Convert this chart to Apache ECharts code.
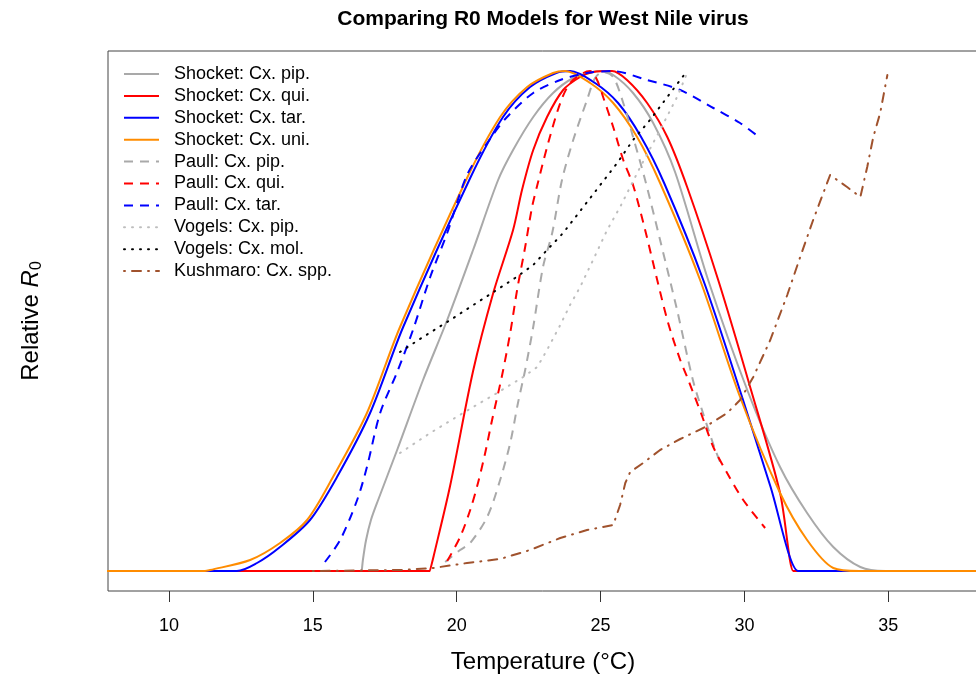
<!DOCTYPE html>
<html><head><meta charset="utf-8">
<script src="https://cdn.jsdelivr.net/npm/echarts@6/dist/echarts.min.js"></script>
<style>html,body{margin:0;padding:0;background:#fff}#c{width:976px;height:677px}</style>
</head><body><div id="c"></div>
<script>
// ---- Data (temperature in °C, relative R0) ----
var xTicks = [10, 15, 20, 25, 30, 35];

var shocketPipT = [5, 16.70, 16.71, 16.74, 16.85, 17.02, 17.27, 17.93, 18.83, 19.67, 20.57, 21.44, 21.96, 22.66, 23.35, 24.05, 24.74, 24.99, 25.44, 26.13, 26.83, 27.59, 28.74, 30.10, 31.24, 32.18, 33.09, 34.03, 34.9, 40];
var shocketPipR = [0, 0, 0, 0.022, 0.062, 0.102, 0.142, 0.242, 0.382, 0.502, 0.642, 0.782, 0.842, 0.908, 0.956, 0.986, 0.998, 1.0, 0.992, 0.956, 0.896, 0.798, 0.582, 0.362, 0.208, 0.116, 0.048, 0.008, 0, 0];

var shocketQuiT = [5, 19.07, 19.08, 19.2, 19.77, 20.57, 21.27, 21.96, 22.27, 22.66, 23.14, 23.70, 24.29, 24.74, 25.40, 25.92, 26.62, 27.32, 28.01, 29.09, 30.20, 31.24, 31.70, 31.71, 40];
var shocketQuiR = [0, 0, 0, 0.03, 0.17, 0.40, 0.556, 0.682, 0.762, 0.842, 0.908, 0.962, 0.988, 0.998, 1.0, 0.982, 0.936, 0.868, 0.768, 0.582, 0.368, 0.156, 0, 0, 0];

var shocketTarT = [5, 12.36, 13.06, 13.86, 14.90, 15.84, 16.99, 18.14, 20.47, 21.61, 22.55, 23.46, 23.94, 24.81, 25.61, 26.41, 27.21, 28.57, 29.92, 30.90, 31.87, 31.88, 40];
var shocketTarR = [0, 0, 0.016, 0.048, 0.102, 0.188, 0.316, 0.488, 0.786, 0.908, 0.968, 0.996, 1.0, 0.976, 0.936, 0.868, 0.776, 0.582, 0.348, 0.17, 0, 0, 0];

var shocketUniT = [5, 11.25, 11.43, 12.82, 13.86, 14.80, 15.70, 16.88, 18.03, 20.36, 21.51, 22.45, 23.35, 23.77, 24.64, 25.44, 26.27, 27.07, 28.46, 29.85, 31.24, 32.18, 33.09, 34.0, 40];
var shocketUniR = [0, 0, 0.002, 0.022, 0.056, 0.102, 0.188, 0.316, 0.488, 0.786, 0.908, 0.968, 0.996, 1.0, 0.976, 0.936, 0.868, 0.776, 0.582, 0.348, 0.156, 0.062, 0.006, 0, 0];

var paullPipT = [19.6, 20.12, 20.47, 21.06, 21.51, 21.86, 22.13, 22.38, 22.66, 23.00, 23.32, 23.66, 24.05, 24.53, 24.81, 25.09, 25.44, 25.79, 26.13, 26.55, 27.07, 27.66, 28.21, 28.56, 28.99, 29.23];
var paullPipR = [0.018, 0.042, 0.056, 0.108, 0.182, 0.256, 0.336, 0.402, 0.488, 0.608, 0.676, 0.782, 0.862, 0.942, 0.986, 0.998, 0.988, 0.936, 0.868, 0.782, 0.662, 0.522, 0.382, 0.316, 0.242, 0.208];

var paullQuiT = [19.67, 20.12, 20.47, 20.74, 20.99, 21.23, 21.58, 21.86, 22.10, 22.38, 22.62, 22.83, 23.18, 23.60, 23.94, 24.40, 24.64, 24.88, 25.09, 25.44, 25.79, 26.13, 26.55, 26.97, 27.35, 27.77, 28.01, 28.49, 28.92, 29.40, 29.96, 30.72];
var paullQuiR = [0.02, 0.068, 0.122, 0.176, 0.236, 0.302, 0.392, 0.476, 0.562, 0.648, 0.728, 0.778, 0.856, 0.936, 0.976, 0.996, 1.0, 0.982, 0.948, 0.888, 0.822, 0.772, 0.682, 0.582, 0.496, 0.422, 0.388, 0.316, 0.248, 0.196, 0.142, 0.086];

var paullTarT = [15.42, 15.95, 16.54, 16.88, 17.34, 17.93, 18.48, 19.08, 19.67, 20.36, 21.06, 21.75, 22.66, 23.60, 24.53, 25.40, 26.62, 27.77, 28.92, 29.85, 30.55];
var paullTarR = [0.018, 0.062, 0.142, 0.208, 0.316, 0.398, 0.482, 0.588, 0.676, 0.792, 0.856, 0.908, 0.956, 0.982, 0.996, 1.0, 0.982, 0.962, 0.926, 0.896, 0.866];

var vogelsPipT = [18.03, 19.08, 20.22, 21.40, 22.31, 22.80, 23.14, 23.60, 23.94, 24.29, 24.74, 25.23, 25.68, 26.38, 27.07, 27.66, 28.01];
var vogelsPipR = [0.236, 0.276, 0.316, 0.356, 0.388, 0.408, 0.442, 0.492, 0.532, 0.568, 0.622, 0.682, 0.728, 0.808, 0.882, 0.948, 0.996];

var vogelsMolT = [18.03, 18.83, 19.67, 20.47, 21.23, 22.03, 22.66, 23.14, 23.70, 24.40, 24.99, 25.58, 26.13, 26.72, 27.32, 27.98];
var vogelsMolR = [0.438, 0.468, 0.498, 0.528, 0.556, 0.586, 0.612, 0.642, 0.676, 0.728, 0.772, 0.816, 0.862, 0.902, 0.948, 0.998];

var kushmaroT = [15.0, 18.03, 19.18, 20.36, 21.51, 22.55, 23.60, 24.53, 25.44, 25.68, 25.86, 26.03, 26.48, 27.07, 27.77, 28.57, 29.40, 29.85, 30.31, 30.90, 31.49, 31.94, 32.39, 32.98, 33.57, 34.03, 34.27, 34.48, 34.72, 34.97];
var kushmaroR = [0, 0.002, 0.006, 0.016, 0.024, 0.042, 0.066, 0.082, 0.092, 0.132, 0.176, 0.198, 0.216, 0.242, 0.264, 0.286, 0.316, 0.342, 0.388, 0.462, 0.552, 0.628, 0.702, 0.792, 0.768, 0.748, 0.808, 0.868, 0.916, 0.992];

// ---- Build ----
function zip(t, r) { return t.map(function (v, i) { return [v, r[i]]; }); }
var FONT = '"Liberation Sans", Arial, Helvetica, sans-serif';

function mk(name, t, r, color, type, cap, smooth) {
  return {
    name: name, type: 'line', data: zip(t, r), symbol: 'none', animation: false,
    smooth: smooth || false,
    lineStyle: { color: color, width: 2, type: type, cap: cap || 'butt', join: 'round' },
    itemStyle: { color: color }
  };
}

var series = [
  mk('Shocket: Cx. pip.', shocketPipT, shocketPipR, '#A9A9A9', 'solid', 'butt', 0.3),
  mk('Shocket: Cx. qui.', shocketQuiT, shocketQuiR, '#FF0000', 'solid', 'butt', 0.3),
  mk('Shocket: Cx. tar.', shocketTarT, shocketTarR, '#0000FF', 'solid', 'butt', 0.3),
  mk('Shocket: Cx. uni.', shocketUniT, shocketUniR, '#FF8C00', 'solid', 'butt', 0.3),
  mk('Paull: Cx. pip.', paullPipT, paullPipR, '#A9A9A9', [9, 7], 'butt', 0.3),
  mk('Paull: Cx. qui.', paullQuiT, paullQuiR, '#FF0000', [9, 7], 'butt', 0.3),
  mk('Paull: Cx. tar.', paullTarT, paullTarR, '#0000FF', [9, 7], 'butt', 0.3),
  mk('Vogels: Cx. pip.', vogelsPipT, vogelsPipR, '#BEBEBE', [1, 7], 'round'),
  mk('Vogels: Cx. mol.', vogelsMolT, vogelsMolR, '#000000', [1, 7], 'round'),
  mk('Kushmaro: Cx. spp.', kushmaroT, kushmaroR, '#A0522D', [1, 7, 9, 7], 'round')
];

var chart = echarts.init(document.getElementById('c'), null, { renderer: 'canvas' });
chart.setOption({
  animation: false,
  backgroundColor: '#ffffff',
  textStyle: { fontFamily: FONT },
  grid: { left: 108, top: 51, width: 870, height: 540, show: true, borderColor: '#444', borderWidth: 1, backgroundColor: 'transparent', outerBoundsMode: 'none', containLabel: false },
  graphic: [{
    type: 'text', x: 543, y: 19,
    style: { text: 'Comparing R0 Models for West Nile virus', textAlign: 'center', textVerticalAlign: 'middle', font: 'bold 21px ' + FONT, fill: '#000' }
  }],
  legend: {
    orient: 'vertical', left: 123, top: 65, padding: 0,
    itemWidth: 35, itemHeight: 18, itemGap: 3.9,
    itemStyle: { color: 'rgba(0,0,0,0)', borderColor: 'rgba(0,0,0,0)', borderWidth: 0 },
    textStyle: { fontSize: 18, lineHeight: 18, color: '#000', fontFamily: FONT, padding: [0, 0, 0, 10] },
    data: series.map(function (s) { return s.name; })
  },
  xAxis: {
    type: 'value', min: 7.88, max: 38.12,
    splitLine: { show: false },
    axisLine: { show: false, onZero: false },
    axisTick: { show: true, length: 11, inside: false, customValues: xTicks, lineStyle: { color: '#333', width: 1 } },
    axisLabel: { customValues: xTicks, margin: 26, fontSize: 18, color: '#000', fontFamily: FONT },
    name: 'Temperature (°C)', nameLocation: 'middle', nameGap: 59,
    nameTextStyle: { fontSize: 24, color: '#000', fontFamily: FONT }
  },
  yAxis: {
    type: 'value', min: -0.04, max: 1.04,
    splitLine: { show: false }, axisLine: { show: false }, axisTick: { show: false }, axisLabel: { show: false },
    name: 'Relative {i|R}{s|0}', nameLocation: 'middle', nameGap: 63, nameRotate: 90,
    nameTextStyle: {
      fontSize: 24, color: '#000', fontFamily: FONT,
      rich: {
        i: { fontSize: 24, fontStyle: 'italic', fontFamily: FONT, color: '#000' },
        s: { fontSize: 16, fontFamily: FONT, color: '#000', padding: [12, 0, 0, 0] }
      }
    }
  },
  series: series
});
</script></body></html>
